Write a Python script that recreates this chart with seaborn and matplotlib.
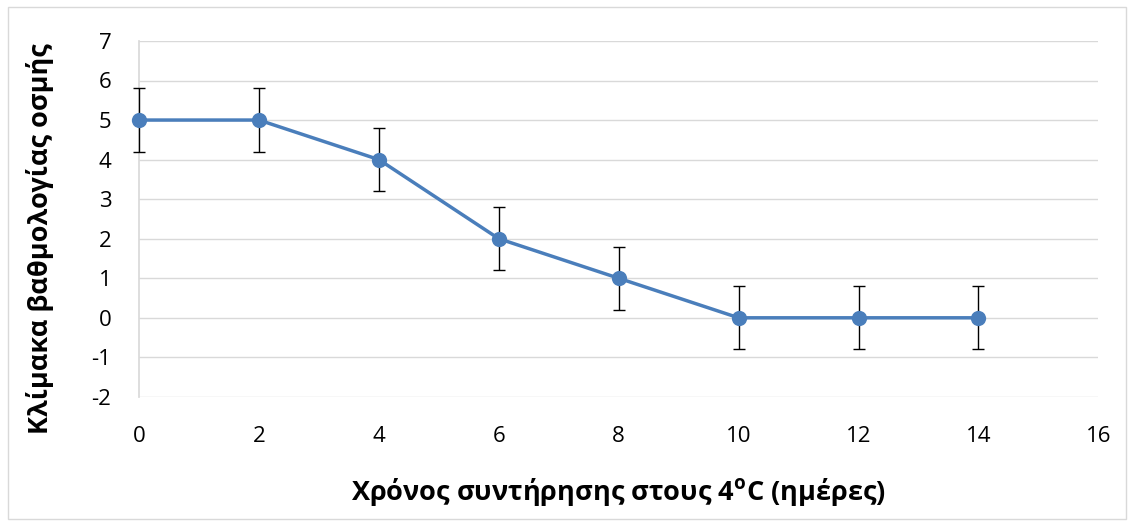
import numpy as np
import matplotlib
matplotlib.use('Agg')
import matplotlib.pyplot as plt
import seaborn as sns
import pandas as pd

# data
days = [0, 2, 4, 6, 8, 10, 12, 14]
score = [5, 5, 4, 2, 1, 0, 0, 0]
err = [0.8, 0.8, 0.8, 0.8, 0.8, 0.8, 0.8, 0.8]
xticks = [0, 2, 4, 6, 8, 10, 12, 14, 16]
yticks = [-2, -1, 0, 1, 2, 3, 4, 5, 6, 7]

sns.set_theme(style='white')
plt.rcParams['font.family'] = ['Open Sans', 'DejaVu Sans']
plt.rcParams['mathtext.fontset'] = 'custom'
plt.rcParams['mathtext.bf'] = 'Open Sans:bold'
plt.rcParams['mathtext.rm'] = 'Open Sans'
plt.rcParams['axes.unicode_minus'] = False

df = pd.DataFrame({'days': days, 'score': score, 'err': err})

fig = plt.figure(figsize=(11.34, 5.25), dpi=100)
ax = fig.add_axes([0.1226, 0.244, 0.846, 0.678])

# light border around the whole chart, like Excel
fig.patches.append(plt.Rectangle((0.007, 0.011), 0.986, 0.975, transform=fig.transFigure,
                                 fill=False, edgecolor='#d9d9d9', lw=1))

eb = ax.errorbar(df['days'], df['score'], yerr=df['err'], fmt='none', ecolor='black',
                 elinewidth=1, capsize=4, capthick=1, zorder=2.6)
for art in eb.lines[1] + eb.lines[2]:
    art.set_clip_on(False)
sns.lineplot(data=df, x='days', y='score', color='#4A7EBB', lw=2.5, marker='o',
             markersize=11, markeredgewidth=0, ax=ax, zorder=3, clip_on=False)

ax.set_xlim(0, 16)
ax.set_ylim(-2, 7)
ax.set_xticks(xticks)
ax.set_yticks(yticks)
ax.tick_params(axis='both', labelsize=16, length=0, labelcolor='black')
ax.tick_params(axis='x', pad=21)
ax.tick_params(axis='y', pad=20)
ax.yaxis.grid(True, color='#d9d9d9', lw=1)
for s in ['top', 'right', 'bottom']:
    ax.spines[s].set_visible(False)
ax.spines['left'].set_color('#d9d9d9')

ax.set_xlabel('Χρόνος συντήρησης στους 4$^{\\mathbf{o}}$C (ημέρες)', fontsize=19.5,
              fontweight='bold', labelpad=21, color='black')
ax.set_ylabel('Κλίμακα βαθμολογίας οσμής', fontsize=19.5, fontweight='bold',
              color='black', va='center')
ax.yaxis.set_label_coords(-0.103, 0.445)

plt.savefig('out.png', dpi=100)
